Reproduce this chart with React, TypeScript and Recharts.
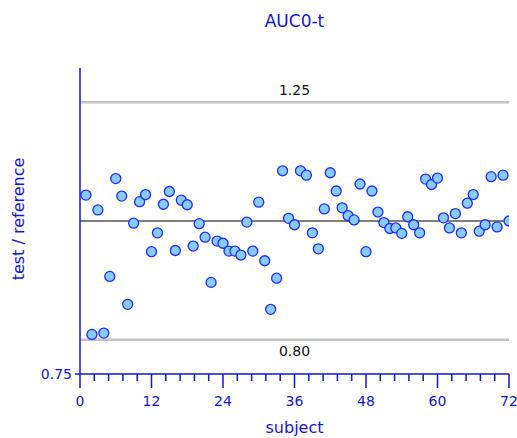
import React from 'react';
import {
  ScatterChart,
  Scatter,
  XAxis,
  YAxis,
  ReferenceLine,
} from 'recharts';

// subject index 1..72
const subjects = [
  1, 2, 3, 4, 5, 6, 7, 8, 9, 10, 11, 12, 13, 14, 15, 16, 17, 18,
  19, 20, 21, 22, 23, 24, 25, 26, 27, 28, 29, 30, 31, 32, 33, 34, 35, 36,
  37, 38, 39, 40, 41, 42, 43, 44, 45, 46, 47, 48, 49, 50, 51, 52, 53, 54,
  55, 56, 57, 58, 59, 60, 61, 62, 63, 64, 65, 66, 67, 68, 69, 70, 71, 72,
];

// test / reference ratio per subject
const ratios = [
  1.050, 0.808, 1.021, 0.810, 0.901, 1.083, 1.048, 0.855, 0.996, 1.037, 1.051, 0.944,
  0.978, 1.032, 1.057, 0.946, 1.040, 1.031, 0.954, 0.995, 0.970, 0.891, 0.963, 0.959,
  0.945, 0.945, 0.938, 0.998, 0.945, 1.036, 0.928, 0.847, 0.898, 1.099, 1.005, 0.993,
  1.099, 1.090, 0.978, 0.949, 1.023, 1.095, 1.058, 1.025, 1.010, 1.002, 1.072, 0.944,
  1.058, 1.017, 0.997, 0.986, 0.987, 0.977, 1.008, 0.993, 0.978, 1.082, 1.071, 1.084,
  1.006, 0.987, 1.014, 0.978, 1.034, 1.051, 0.981, 0.993, 1.087, 0.989, 1.090, 1.000,
];

const xTicks = [
  0, 2.4, 4.8, 7.2, 9.6, 12, 14.4, 16.8, 19.2, 21.6, 24, 26.4, 28.8, 31.2, 33.6, 36,
  38.4, 40.8, 43.2, 45.6, 48, 50.4, 52.8, 55.2, 57.6, 60, 62.4, 64.8, 67.2, 69.6, 72,
];
const xLabels = ['0', '12', '24', '36', '48', '60', '72'];
const yTicks = [0.75];
const limits = [0.8, 1.25];

const data = subjects.map((s, i) => ({ subject: s, ratio: ratios[i] }));

const BLUE = '#1616cc';
const FONT = 'DejaVu Sans, Verdana, sans-serif';

function XTick(props: any) {
  const { x, y, payload } = props;
  const label = String(payload.value);
  const major = xLabels.includes(label);
  return (
    <g>
      <line x1={x} y1={y} x2={x} y2={y + (major ? 14 : 7)} stroke={BLUE} strokeWidth={1.5} />
      {major && (
        <text x={x} y={y + 32} textAnchor="middle" fill={BLUE} fontSize={14} fontFamily={FONT}>
          {label}
        </text>
      )}
    </g>
  );
}

const YLabel = () => (
  <text
    x={18}
    y={219}
    transform="rotate(-90 18 219)"
    textAnchor="middle"
    dominantBaseline="central"
    fill={BLUE}
    fontSize={16}
    fontFamily={FONT}
  >
    test / reference
  </text>
);

const XLabel = () => (
  <text x={294.5} y={433} textAnchor="middle" fill={BLUE} fontSize={16} fontFamily={FONT}>
    subject
  </text>
);

const Dot = (props: any) => (
  <circle cx={props.cx} cy={props.cy} r={5} fill="#88ccff" stroke="#1f2dff" strokeWidth={1.3} />
);

export default function App() {
  return (
    <div style={{ position: 'absolute', left: 0, top: 0, background: '#fff' }}>
      <ScatterChart
        width={517}
        height={438}
        margin={{ top: 68, right: 8, left: 0, bottom: 0 }}
      >
        <text x={294.5} y={27} textAnchor="middle" fill={BLUE} fontSize={17} fontFamily={FONT}>
          AUC0-t
        </text>
        <XAxis
          type="number"
          dataKey="subject"
          domain={[0, 72]}
          ticks={xTicks}
          interval={0}
          height={64}
          tickSize={0}
          tickMargin={0}
          tickLine={false}
          tick={<XTick />}
          axisLine={{ stroke: BLUE, strokeWidth: 1.5 }}
          label={<XLabel />}
          allowDataOverflow
        />
        <YAxis
          type="number"
          dataKey="ratio"
          scale="log"
          domain={[0.75, 4 / 3]}
          ticks={yTicks}
          width={80}
          tickSize={5}
          tickMargin={3}
          tickFormatter={(v: number) => v.toFixed(2)}
          tick={{ fill: BLUE, fontSize: 14, fontFamily: FONT }}
          tickLine={{ stroke: BLUE, strokeWidth: 1.5 }}
          axisLine={{ stroke: BLUE, strokeWidth: 1.5 }}
          label={<YLabel />}
          allowDataOverflow
        />
        <ReferenceLine
          y={limits[1]}
          stroke="#c4c4c4"
          strokeWidth={2.5}
          label={{ value: limits[1].toFixed(2), position: 'top', offset: 7, fill: '#111', fontSize: 14, fontFamily: FONT }}
        />
        <ReferenceLine
          y={limits[0]}
          stroke="#c4c4c4"
          strokeWidth={2.5}
          label={{ value: limits[0].toFixed(2), position: 'bottom', offset: 6, fill: '#111', fontSize: 14, fontFamily: FONT }}
        />
        <ReferenceLine y={1} stroke="#555" strokeWidth={1.5} />
        <Scatter data={data} shape={<Dot />} isAnimationActive={false} />
      </ScatterChart>
    </div>
  );
}
